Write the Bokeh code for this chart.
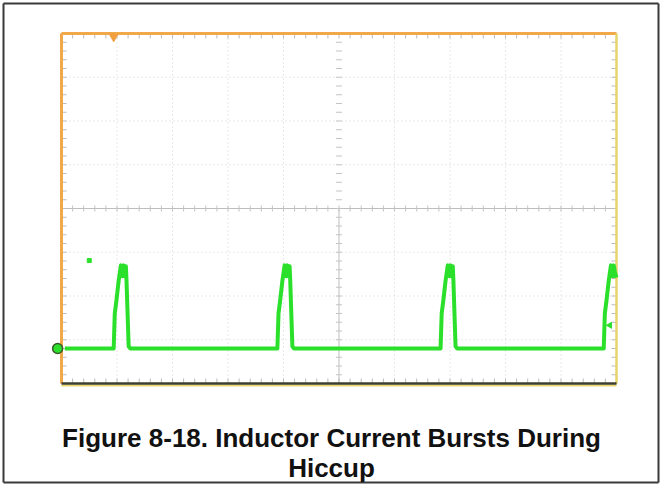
import numpy as np
from bokeh.plotting import figure
from bokeh.models import Label
from bokeh.embed import file_html
from bokeh.resources import INLINE

# ---- data (oscilloscope divisions: x 0..10, y -4..4) ----
time_div = [0.06, 0.94,
            0.94, 0.96, 0.99, 1.03, 1.07, 1.10, 1.12, 1.14, 1.16, 1.17, 1.21, 1.24,
            3.89,
            3.89, 3.91, 3.94, 3.98, 4.02, 4.05, 4.07, 4.09, 4.11, 4.12, 4.16, 4.19,
            6.83,
            6.83, 6.85, 6.88, 6.92, 6.96, 6.99, 7.01, 7.03, 7.05, 7.06, 7.10, 7.13,
            9.77,
            9.77, 9.79, 9.82, 9.86, 9.90, 9.93, 9.95, 9.97, 10.00]
current_div = [-3.20, -3.20,
               -3.20, -2.40, -2.10, -1.65, -1.30, -1.55, -1.30, -1.55, -1.32, -1.60, -3.15, -3.20,
               -3.20,
               -3.20, -2.40, -2.10, -1.65, -1.30, -1.55, -1.30, -1.55, -1.32, -1.60, -3.15, -3.20,
               -3.20,
               -3.20, -2.40, -2.10, -1.65, -1.30, -1.55, -1.30, -1.55, -1.32, -1.60, -3.15, -3.20,
               -3.20,
               -3.20, -2.40, -2.10, -1.65, -1.30, -1.55, -1.30, -1.45, -1.58]
x_divisions = 10
y_divisions = 8
ground_level = -3.20
trigger_time = 0.94
caption_lines = ["Figure 8-18. Inductor Current Bursts During", "Hiccup"]

GREEN = "#2BE02B"

# canvas pixels -> divisions mapping (scope box 61..616 x, 33..383 y)
px_per_div_x = 55.5
px_per_div_y = 43.75
W, H = 661, 485
OX, OY = 61, 208          # canvas pixel of x=0 div, y=0 div
x0 = (0 - OX) / px_per_div_x
x1 = (W - OX) / px_per_div_x
y1 = (OY - 0) / px_per_div_y
y0 = (OY - H) / px_per_div_y


def cx(px):
    return (px - OX) / px_per_div_x


def cy(py):
    return (OY - py) / px_per_div_y


p = figure(width=W, height=H, x_range=(x0, x1), y_range=(y0, y1),
           x_axis_type=None, y_axis_type=None, toolbar_location=None,
           output_backend="svg", min_border=0)
p.outline_line_color = None
p.background_fill_color = "white"
p.border_fill_color = "white"

# outer page border
p.segment(x0=[cx(3), cx(3), cx(658), cx(3)], y0=[cy(3), cy(3), cy(3), cy(482)],
          x1=[cx(658), cx(3), cx(658), cx(658)], y1=[cy(3), cy(482), cy(482), cy(482)],
          line_color="#3A3A3A", line_width=2)

xl, xr = 0, x_divisions
yb, yt = -y_divisions / 2, y_divisions / 2

# dotted grid
gx = [v for v in range(1, x_divisions) if v != x_divisions // 2]
gy = [v for v in range(int(yb) + 1, int(yt)) if v != 0]
p.segment(x0=gx, y0=[yb] * len(gx), x1=gx, y1=[yt] * len(gx),
          line_color="#D2D2D2", line_dash="1 3", line_width=1)
p.segment(x0=[xl] * len(gy), y0=gy, x1=[xr] * len(gy), y1=gy,
          line_color="#D2D2D2", line_dash="1 3", line_width=1)

# center lines
p.segment(x0=[x_divisions / 2, xl], y0=[yb, 0], x1=[x_divisions / 2, xr], y1=[0, 0],
          line_color="#BDBDBD", line_width=1)

# minor ticks on center lines and edges
mx = np.arange(xl, xr + 0.001, 0.2)
my = np.arange(yb, yt + 0.001, 0.2)
tx = 3 / px_per_div_x
ty = 3 / px_per_div_y
p.segment(x0=mx, y0=-ty, x1=mx, y1=ty, line_color="#C4C4C4")
p.segment(x0=x_divisions / 2 - tx, y0=my, x1=x_divisions / 2 + tx, y1=my, line_color="#C4C4C4")
ex = 5 / px_per_div_x
ey = 5 / px_per_div_y
p.segment(x0=mx, y0=yt, x1=mx, y1=yt - ey, line_color="#BBBBBB")
p.segment(x0=mx, y0=yb, x1=mx, y1=yb + ey, line_color="#BBBBBB")
p.segment(x0=xl, y0=my, x1=xl + ex, y1=my, line_color="#BBBBBB")
p.segment(x0=xr, y0=my, x1=xr - ex, y1=my, line_color="#BBBBBB")

# scope frame
p.segment(x0=[xl, xl], y0=[yt, yb], x1=[xr, xl], y1=[yt, yt],
          line_color="#F0A848", line_width=3)
p.segment(x0=[xr], y0=[yb], x1=[xr], y1=[yt], line_color="#E6D46A", line_width=2.5)
p.segment(x0=[xl], y0=[yb - 2 / px_per_div_y], x1=[xr], y1=[yb - 2 / px_per_div_y],
          line_color="#E8D870", line_width=2)
p.segment(x0=[xl], y0=[yb], x1=[xr], y1=[yb], line_color="#3E3E30", line_width=2.5)

# trace
p.line(time_div, current_div, line_color=GREEN, line_width=4, line_join="round")

# markers
p.scatter([trigger_time], [yt - 0.07], marker="inverted_triangle", size=9,
          fill_color="#F0A040", line_color="#F0A040")
p.scatter([-0.07], [ground_level], marker="circle", size=10,
          fill_color=GREEN, line_color="#3A5A2A", line_width=1.5)
p.scatter([0.50], [-1.19], marker="square", size=4, fill_color=GREEN, line_color=GREEN)
p.scatter([9.88], [-2.67], marker="triangle", angle=np.pi / 2, size=6,
          fill_color=GREEN, line_color=GREEN)

# caption
for i, txt in enumerate(caption_lines):
    p.add_layout(Label(x=cx(331), y=cy(437 + 30 * i), text=txt,
                       text_align="center", text_baseline="middle",
                       text_font="Liberation Sans", text_font_style="bold",
                       text_font_size="26px", text_color="#111111"))

open("out.html", "w").write(file_html(p, INLINE))
